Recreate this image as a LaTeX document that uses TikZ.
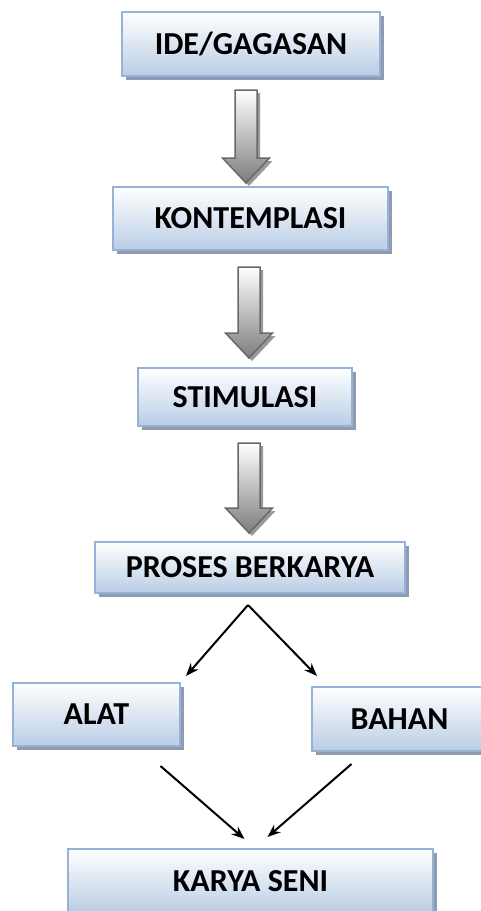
\documentclass[tikz,border=0pt]{standalone}
\usepackage{fontspec}
\setmainfont{Carlito}
\usetikzlibrary{arrows.meta,calc,shadows}

\definecolor{boxline}{RGB}{149,179,215}
\definecolor{boxbot}{RGB}{185,205,229}
\definecolor{boxshade}{RGB}{142,155,176}
\definecolor{arrline}{RGB}{105,105,105}
\definecolor{arrbot}{RGB}{125,125,125}

% block arrow: x of centre line, y of top, y of tip
\newcommand{\blockarrow}[3]{%
  \fill[black!40, shift={(3,3)}] (#1-11,#2) -- (#1+11,#2) -- (#1+11,#3-25) -- (#1+23.5,#3-25)
    -- (#1,#3) -- (#1-23.5,#3-25) -- (#1-11,#3-25) -- cycle;
  \shade[top color=white, bottom color=arrbot, draw=arrline, line width=1.5pt, line join=miter]
    (#1-11,#2) -- (#1+11,#2) -- (#1+11,#3-25) -- (#1+23.5,#3-25)
    -- (#1,#3) -- (#1-23.5,#3-25) -- (#1-11,#3-25) -- cycle;
}

\begin{document}
\begin{tikzpicture}[
  x=1pt, y=-1pt,
  font=\fontsize{32}{38}\selectfont\bfseries,
  stage/.style={draw=boxline, line width=2pt, top color=white, bottom color=boxbot,
    inner sep=0pt, general shadow={shadow xshift=3.5pt, shadow yshift=-3.5pt, fill=boxshade}},
  flow/.style={-{Stealth[length=13pt,width=10pt]}, line width=2pt, draw=black},
]
\useasboundingbox (0,0) rectangle (481,911);

% ---- stages ----
\node[stage, minimum width=258pt, minimum height=64pt] (ide)   at (251,44)    {IDE/GAGASAN};
\node[stage, minimum width=275pt, minimum height=63pt] (kon)   at (250.5,218.5) {KONTEMPLASI};
\node[stage, minimum width=214pt, minimum height=58pt] (stim)  at (245,397)   {STIMULASI};
\node[stage, minimum width=310pt, minimum height=51pt] (pros)  at (250,567.5) {PROSES BERKARYA};
\node[stage, minimum width=167pt, minimum height=63pt] (alat)  at (96.5,714.5) {ALAT};
\node[stage, minimum width=175pt, minimum height=64pt] (bahan) at (399.5,719) {BAHAN};
\node[stage, minimum width=365pt, minimum height=64pt] (karya) at (250.5,881) {KARYA SENI};

% ---- block arrows ----
\blockarrow{246}{90}{183}
\blockarrow{249}{267}{358}
\blockarrow{249}{443}{533}

% ---- split and join ----
\coordinate (fork) at ($(pros.south)+(-2,11)$);
\draw[flow] (fork) -- ($(alat.north east)+(5,-6)$);
\draw[flow] (fork) -- ($(bahan.north west)+(6,-10)$);
\draw[flow] ($(alat.south)+(64,19)$) -- ($(karya.north)+(-6,-9)$);
\draw[flow] ($(bahan.south)+(-48,12)$) -- ($(karya.north)+(17,-11)$);
\end{tikzpicture}
\end{document}
